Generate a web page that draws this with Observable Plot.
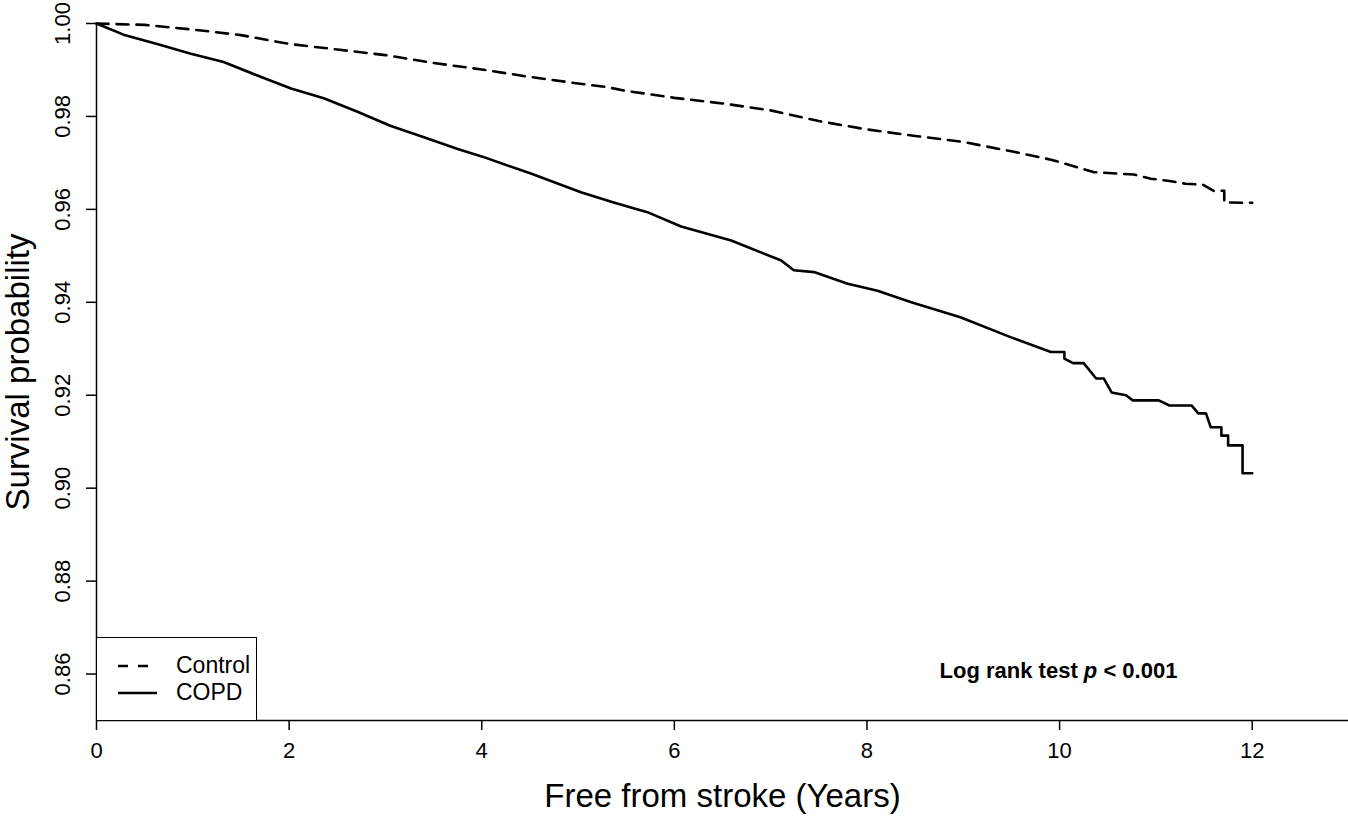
<!DOCTYPE html>
<html>
<head>
<meta charset="utf-8">
<script src="https://cdn.jsdelivr.net/npm/d3@7"></script>
<script src="https://cdn.jsdelivr.net/npm/@observablehq/plot@0.6"></script>
<style>
  html, body { margin: 0; padding: 0; background: #fff; }
  #wrap { position: relative; width: 1348px; height: 816px; font-family: "Liberation Sans", Arial, sans-serif; }
  #legend { position: absolute; left: 96px; top: 637px; width: 161px; height: 84px; border: 1.5px solid #000; box-sizing: border-box; background: #fff; }
  #legend .lab { position: absolute; left: 79px; font-size: 23px; line-height: 23px; color: #000; }
  #legend svg { position: absolute; left: 0; top: 0; }
</style>
</head>
<body>
<div id="wrap"></div>
<script>
// ---- Data ----
const controlYears = [0, 0.5, 1.0, 1.5, 2.0, 2.5, 3.0, 3.5, 4.0, 4.5, 5.0, 5.3, 5.5, 6.0, 6.5, 7.0, 7.5, 8.0, 8.5, 9.0, 9.5, 9.91, 10.36, 10.77, 10.95, 11.14, 11.31, 11.49, 11.6, 11.71, 11.71, 12.0];
const controlSurv  = [1.0, 0.9997, 0.9987, 0.9975, 0.9956, 0.9944, 0.9932, 0.9915, 0.9901, 0.9885, 0.9871, 0.9863, 0.9855, 0.9840, 0.9828, 0.9813, 0.9790, 0.9772, 0.9758, 0.9745, 0.9725, 0.9707, 0.9680, 0.9675, 0.9666, 0.9661, 0.9655, 0.9653, 0.9640, 0.9640, 0.9615, 0.9614];

const copdYears = [0, 0.28, 0.63, 0.98, 1.32, 1.67, 2.02, 2.36, 2.71, 3.05, 3.40, 3.75, 4.0, 4.51, 5.03, 5.37, 5.72, 6.07, 6.59, 7.11, 7.24, 7.45, 7.80, 8.11, 8.46, 8.97, 9.49, 9.91, 10.05, 10.05, 10.14, 10.25, 10.38, 10.46, 10.54, 10.69, 10.76, 11.03, 11.14, 11.37, 11.44, 11.52, 11.57, 11.68, 11.68, 11.75, 11.75, 11.90, 11.90, 12.0];
const copdSurv  = [1.0, 0.9976, 0.9956, 0.9935, 0.9917, 0.9888, 0.986, 0.9839, 0.981, 0.978, 0.9755, 0.973, 0.9714, 0.9677, 0.9637, 0.9615, 0.9594, 0.9563, 0.9533, 0.949, 0.9469, 0.9465, 0.944, 0.9425, 0.940, 0.9368, 0.9325, 0.9293, 0.9293, 0.9279, 0.9269, 0.9269, 0.9236, 0.9236, 0.9206, 0.9200, 0.9189, 0.9189, 0.9178, 0.9178, 0.9161, 0.9161, 0.9131, 0.9131, 0.9113, 0.9113, 0.9092, 0.9092, 0.9032, 0.9032];

const xTicks = [0, 2, 4, 6, 8, 10, 12];
const yTicks = [0.86, 0.88, 0.90, 0.92, 0.94, 0.96, 0.98, 1.00];
const xDomain = [0, 13];
const yDomain = [0.85, 1.0];
const seriesNames = ["Control", "COPD"];
const xTitle = "Free from stroke (Years)";
const yTitle = "Survival probability";
const noteText = "Log rank test p < 0.001";

const control = controlYears.map((t, i) => ({t, s: controlSurv[i]}));
const copd = copdYears.map((t, i) => ({t, s: copdSurv[i]}));

const plot = Plot.plot({
  width: 1348,
  height: 816,
  marginLeft: 96,
  marginRight: 0,
  marginTop: 23,
  marginBottom: 96,
  style: {fontFamily: '"Liberation Sans", Arial, sans-serif', fontSize: "22px", color: "#000", background: "#fff", overflow: "visible"},
  x: {domain: xDomain},
  y: {domain: yDomain},
  marks: [
    Plot.axisX({ticks: xTicks, tickSize: 10, tickPadding: 12, tickFormat: d3.format("d"), label: null, strokeWidth: 1.5}),
    Plot.axisY({ticks: yTicks, tickSize: 10, tickPadding: 17, tickRotate: -90, tickFormat: d3.format(".2f"), label: null, strokeWidth: 1.5}),
    Plot.ruleX([xDomain[0]], {stroke: "#000", strokeWidth: 1.5}),
    Plot.ruleY([yDomain[0]], {stroke: "#000", strokeWidth: 1.5}),
    Plot.line(control, {x: "t", y: "s", stroke: "#000", strokeWidth: 2.6, strokeDasharray: "12,8", curve: "linear"}),
    Plot.line(copd, {x: "t", y: "s", stroke: "#000", strokeWidth: 2.6, curve: "linear"}),
    Plot.text([xTitle], {frameAnchor: "bottom", dy: 86, fontSize: 33, fill: "#000"}),
    Plot.text([yTitle], {frameAnchor: "left", dx: -78, rotate: -90, textAnchor: "middle", fontSize: 33, fill: "#000"}),
    Plot.text([noteText], {frameAnchor: "bottom", dx: 336, dy: -43, fontSize: 22, fontWeight: "bold", fill: "#000", className: "lognote"})
  ]
});

// italic p in the note
d3.select(plot).selectAll("g.lognote text").each(function() {
  const parts = noteText.split(" p ");
  const sel = d3.select(this).text(null);
  sel.append("tspan").text(parts[0] + " ");
  sel.append("tspan").attr("font-style", "italic").text("p");
  sel.append("tspan").text(" " + parts[1]);
});

const wrap = document.getElementById("wrap");
wrap.appendChild(plot);

// Legend overlay
const legend = document.createElement("div");
legend.id = "legend";
legend.innerHTML = `
  <svg width="160" height="84">
    <line x1="21" x2="51" y1="28" y2="28" stroke="#000" stroke-width="2.6" stroke-dasharray="10,10"></line>
    <line x1="21" x2="60" y1="55" y2="55" stroke="#000" stroke-width="2.6"></line>
  </svg>
  <div class="lab" style="top:16px">${seriesNames[0]}</div>
  <div class="lab" style="top:43px">${seriesNames[1]}</div>`;
wrap.appendChild(legend);
</script>
</body>
</html>
